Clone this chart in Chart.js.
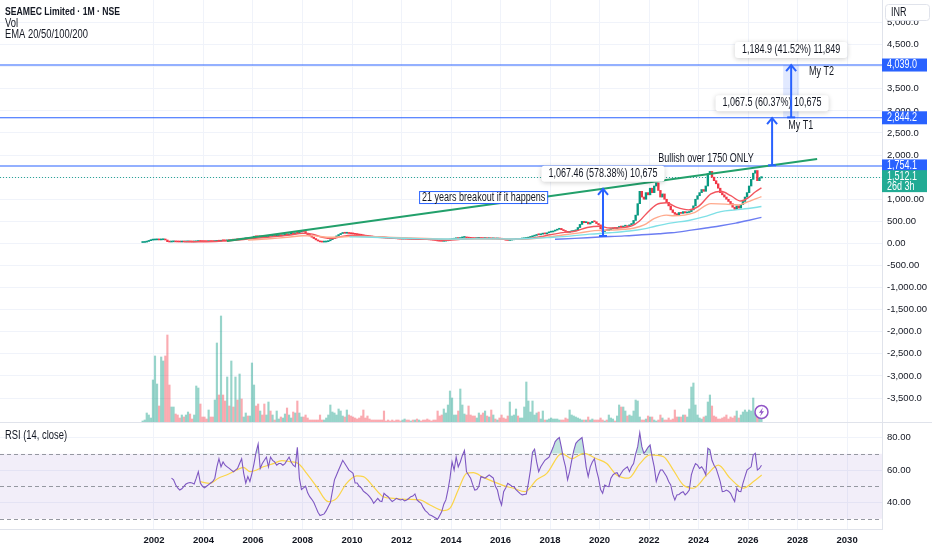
<!DOCTYPE html>
<html>
<head>
<meta charset="utf-8">
<title>SEAMEC Limited · 1M · NSE</title>
<script src="https://cdn.jsdelivr.net/npm/chart.js@4.4.1/dist/chart.umd.min.js"></script>
<style>
  body { margin: 0; background: #ffffff; }
  canvas { display: block; }
</style>
</head>
<body>
<canvas id="price" width="932" height="422"></canvas>
<canvas id="rsi" width="932" height="128"></canvas>
<script>
// monthly bars, the first one is July 2001
const startYear = 2001;
const startMonth = 6;
const firstOpen = 20;

// monthly closes (INR), open of a bar = close of the bar before
const closes = [
  22, 30, 45, 62, 75, 78,                                        // 2001 Jul-Dec
  80, 82, 79, 83, 85, 78, 40, 32, 36, 38, 35, 33,                // 2002
  32, 34, 33, 35, 36, 35, 33, 36, 42, 46, 44, 42,                // 2003
  41, 40, 43, 42, 41, 45, 52, 50, 62, 60, 58, 66,                // 2004
  64, 78, 75, 90, 85, 100, 95, 105, 110, 108, 115, 140,          // 2005
  155, 150, 148, 160, 150, 145, 150, 165, 160, 170, 165, 175,    // 2006
  180, 175, 190, 200, 195, 210, 225, 215, 240, 235, 260, 290,    // 2007
  270, 230, 200, 170, 140, 110, 80, 55, 35, 30, 32, 40,          // 2008
  60, 85, 110, 140, 170, 200, 225, 240, 230, 235, 225, 220,      // 2009
  215, 205, 200, 190, 185, 175, 165, 160, 150, 145, 140, 135,    // 2010
  130, 128, 125, 122, 118, 115, 112, 110, 108, 105, 100, 98,     // 2011
  100, 102, 98, 95, 96, 92, 94, 90, 92, 90, 88, 86,              // 2012
  85, 82, 78, 72, 66, 55, 50, 48, 52, 60, 75, 90,                // 2013
  95, 105, 115, 110, 125, 135, 140, 125, 120, 115, 110, 108,     // 2014
  112, 115, 110, 108, 112, 106, 108, 104, 106, 102, 104, 100,    // 2015
  95, 85, 72, 68, 75, 82, 88, 95, 90, 100, 105, 110,             // 2016
  120, 135, 150, 165, 180, 200, 195, 210, 220, 215, 240, 255,    // 2017
  260, 280, 300, 320, 340, 310, 290, 270, 250, 265, 270, 285,    // 2018
  300, 360, 430, 500, 470, 480, 440, 470, 500, 490, 450, 420,    // 2019
  330, 270, 300, 290, 310, 330, 350, 340, 360, 380, 370, 390,    // 2020
  400, 380, 420, 450, 520, 640, 900, 1180, 1050, 1000, 1150, 1100,   // 2021
  1250, 1150, 1300, 1370, 1200, 1050, 1120, 1000, 930, 850, 760, 700, // 2022
  660, 650, 700, 680, 720, 690, 700, 720, 760, 850, 1000, 1080,  // 2023
  1150, 1220, 1180, 1300, 1580, 1630, 1500, 1420, 1350, 1250, 1150, 1100, // 2024
  1050, 1000, 950, 900, 820, 770, 850, 800, 880, 950, 1050, 1150, // 2025
  1300, 1450, 1590, 1650, 1420, 1480, 1512                        // 2026 Jan-Jul
];

// monthly volume (relative units)
const volume = [
  1, 2, 9, 7, 4, 42,
  66, 38, 16, 65, 61, 66, 87, 37, 15, 15, 8, 7,
  4, 7, 5, 7, 10, 8, 3, 7, 36, 34, 18, 5,
  5, 3, 12, 5, 5, 22, 79, 27, 106, 27, 21, 45,
  16, 61, 15, 45, 22, 48, 23, 5, 9, 6, 6, 59,
  37, 16, 18, 11, 7, 18, 7, 20, 11, 7, 2, 11,
  3, 5, 4, 8, 14, 7, 4, 10, 9, 21, 9, 5,
  5, 7, 4, 2, 2, 2, 2, 2, 7, 2, 2, 4,
  7, 17, 10, 9, 7, 13, 11, 6, 5, 12, 7, 6,
  5, 4, 3, 4, 6, 12, 4, 6, 3, 2, 2, 2,
  2, 2, 2, 11, 1, 2, 1, 2, 1, 2, 2, 1,
  2, 3, 2, 2, 1, 2, 2, 3, 2, 1, 2, 2,
  3, 2, 1, 2, 2, 11, 6, 7, 13, 9, 17, 31,
  24, 7, 7, 11, 33, 17, 8, 7, 16, 7, 6, 6,
  4, 9, 7, 9, 11, 6, 5, 12, 7, 3, 2, 4,
  7, 4, 3, 6, 20, 6, 7, 13, 6, 4, 4, 15,
  40, 21, 10, 21, 7, 9, 10, 3, 11, 2, 2, 3,
  4, 3, 3, 3, 2, 2, 2, 4, 3, 12, 7, 6,
  5, 4, 3, 2, 2, 2, 5, 2, 3, 2, 2, 2,
  4, 2, 1, 2, 7, 4, 3, 1, 6, 17, 15, 15,
  11, 6, 7, 6, 11, 22, 21, 5, 2, 2, 3, 6,
  5, 5, 2, 1, 2, 7, 4, 2, 2, 4, 2, 3,
  12, 5, 5, 5, 7, 7, 5, 13, 35, 39, 17, 7,
  4, 3, 5, 6, 20, 27, 16, 6, 5, 3, 3, 4,
  5, 7, 3, 5, 4, 6, 11, 4, 7, 10, 12, 10,
  12, 11, 24, 9, 14, 10, 12
];

// RSI(14) per month
const rsi = [
  null, null, null, null, null, null,
  null, null, null, null, null, null, null, null, 55, 54, 51, 49,
  47.7, 48.5, 50, 51.4, 52, 52.3, 52, 51.4, 55, 59, 52, 50,
  49, 50, 51, 52, 53, 55, 62, 67, 62, 65, 63, 62,
  61, 60, 59, 60, 61, 64, 67, 58, 52, 56, 53, 58,
  64, 71, 76, 61, 64, 66, 68, 62, 68, 66, 65, 63,
  64, 64, 63, 64, 66, 68, 65, 63, 62, 74, 55, 48,
  49, 50, 46, 43.6, 42, 40, 37, 34, 32, 32.5, 33, 35,
  37.5, 40, 47, 54, 57, 60, 63, 66, 64, 62, 60, 59,
  58, 52, 52, 50, 49, 47, 46, 45, 43.6, 42, 39.5, 41,
  42.6, 41, 40.6, 45.7, 44.5, 43.6, 42, 40.6, 41.5, 42.6, 42, 41.6,
  42, 41, 41.6, 42.5, 43.6, 44, 45.3, 41.6, 40.5, 39.5, 37, 35,
  34, 32.4, 32, 31.3, 30.5, 29.7, 32, 34.4, 39, 41.6, 47.7, 55,
  65, 60, 68, 62, 65, 69, 72, 59, 57, 55, 51, 47.7,
  48, 50, 56, 55.5, 55, 56, 57, 56, 55, 50, 47.7, 42,
  38.5, 46.7, 49, 51.8, 51, 50, 49.8, 48, 46.7, 45.5, 44.7, 45,
  45.3, 52, 60, 71, 72.8, 65, 59, 62, 64, 66, 67, 68,
  71, 74, 77.5, 79, 80, 74, 67, 62, 54, 59, 66, 72,
  76.5, 78, 79, 80, 72, 62, 56, 62, 65, 67, 60, 55,
  48, 45.7, 50.8, 50, 49.8, 55, 57, 58, 58.4, 56, 58, 60,
  61, 62, 59, 62, 64, 70, 74.4, 83, 74.4, 70.3, 72, 74,
  75.4, 68, 62, 52.9, 57, 60, 60, 58, 56, 53, 50.8, 45,
  41.6, 44.7, 45, 46, 46.7, 44.7, 46, 47.7, 57, 61, 64, 63,
  61, 62, 60, 57, 73.4, 72.4, 66, 63, 61, 57, 52.9, 46.7,
  47, 47.7, 47, 45.7, 43, 40.6, 48.8, 47, 46.7, 51.8, 56, 60,
  61, 62, 69.3, 70.3, 60, 61, 63
];

// RSI smoothing line, read at these dates
const rsiMaDates = [2003.86, 2004.26, 2004.6, 2004.93, 2005.34, 2005.61, 2005.88, 2006.15, 2006.42, 2006.82,
  2007.16, 2007.49, 2007.83, 2008.17, 2008.57, 2009.04, 2009.38, 2009.78, 2010.19, 2010.46,
  2010.86, 2011.26, 2011.67, 2012.21, 2012.75, 2013.15, 2013.69, 2013.96, 2014.29, 2014.63,
  2014.9, 2015.31, 2015.71, 2016.12, 2016.52, 2016.99, 2017.46, 2017.87, 2018.48, 2018.88,
  2019.35, 2019.88, 2020.29, 2020.69, 2021.17, 2021.63, 2022.04, 2022.58, 2022.98, 2023.38,
  2023.79, 2024.33, 2024.8, 2025.27, 2025.81, 2026.22, 2026.55];
const rsiMa = [52.9, 51.8, 55, 57, 60, 61.7, 59, 60, 62, 64,
  65.8, 65.2, 64, 58, 49.8, 40.6, 42.6, 51.8, 56.4, 56,
  49.8, 43.6, 42.6, 42, 41.6, 38.5, 35, 36.5, 47.7, 58,
  58.4, 55.5, 52.9, 50.4, 48.8, 46.7, 54, 58, 70.3, 67,
  70.3, 67, 64, 57, 55, 64, 69.3, 68.3, 60, 50.8,
  48.8, 57, 63, 55, 48.8, 52.9, 57];

// EMA lines, read at these dates
const ema20Dates = [2003.2, 2003.8, 2004.5, 2005.0, 2005.5, 2006.0, 2006.5, 2007.0, 2007.5, 2008.0,
  2008.4, 2008.8, 2009.2, 2009.6, 2010.0, 2010.5, 2011.0, 2011.5, 2012.0, 2012.5,
  2013.0, 2013.5, 2013.9, 2014.3, 2014.8, 2015.3, 2015.8, 2016.3, 2016.8, 2017.2,
  2017.6, 2018.0, 2018.5, 2019.0, 2019.5, 2020.0, 2020.4, 2020.9, 2021.3, 2021.6,
  2021.9, 2022.3, 2022.7, 2023.1, 2023.6, 2024.0, 2024.5, 2024.9, 2025.3, 2025.7,
  2026.0, 2026.3, 2026.54];
const ema20 = [40, 38, 45, 58, 80, 110, 135, 160, 190, 230,
  210, 140, 110, 160, 185, 175, 150, 128, 110, 98,
  92, 80, 72, 88, 110, 112, 108, 95, 95, 115,
  150, 195, 245, 275, 360, 390, 350, 355, 395, 500,
  680, 880, 920, 820, 760, 840, 1120, 1180, 1080, 960,
  1030, 1170, 1257];
const ema50Dates = [2005.8, 2006.5, 2007.0, 2007.5, 2008.0, 2008.5, 2009.0, 2009.5, 2010.0, 2010.5,
  2011.0, 2012.0, 2013.0, 2014.0, 2015.0, 2016.0, 2016.8, 2017.5, 2018.0, 2018.6,
  2019.2, 2019.8, 2020.4, 2021.0, 2021.4, 2021.8, 2022.2, 2022.7, 2023.0, 2023.8,
  2024.5, 2025.1, 2025.6, 2025.9, 2026.54];
const ema50 = [75, 100, 120, 145, 175, 170, 140, 145, 160, 158,
  150, 130, 110, 95, 105, 102, 98, 120, 150, 195,
  240, 290, 300, 320, 350, 420, 560, 640, 625, 690,
  900, 890, 870, 920, 1060];
const ema100Dates = [2009.9, 2010.5, 2011.5, 2012.5, 2013.5, 2014.5, 2015.5, 2016.5, 2017.2, 2018.0,
  2018.8, 2019.6, 2020.4, 2021.2, 2021.8, 2022.25, 2022.85, 2023.6, 2024.2, 2024.9,
  2025.5, 2026.0, 2026.54];
const ema100 = [150, 145, 128, 112, 100, 100, 104, 100, 110, 135,
  165, 210, 240, 280, 330, 390, 460, 520, 600, 720,
  760, 790, 835];
const ema200Dates = [2018.2, 2019.0, 2020.0, 2021.0, 2021.7, 2022.4, 2022.9, 2023.7, 2024.3, 2024.9,
  2025.5, 2026.0, 2026.54];
const ema200 = [95, 115, 145, 170, 195, 220, 240, 300, 350, 400, 460, 520, 590];

// axis ticks
const yearTicks = [2002, 2004, 2006, 2008, 2010, 2012, 2014, 2016, 2018, 2020, 2022, 2024, 2026, 2028, 2030];
const priceTicks = [-3500, -3000, -2500, -2000, -1500, -1000, -500, 0, 500, 1000, 1500, 2000, 2500, 3000, 3500, 4000, 4500, 5000];
const rsiTicks = [40, 60, 80];
const rsiBands = [70, 50, 30];

// drawings on the price pane
const levels = [4039.0, 2844.2, 1754.1];
const lastPrice = 1512.1;
const trendDates = [2004.95, 2028.79];
const trendValues = [54, 1911];
const moveDates = [2020.14, 2026.97, 2027.74];
const moveFrom = [167.5, 1768.3, 2853.8];
const moveTo = [1235.0, 2835.8, 4038.7];
const moveLabels = ['1,067.46 (578.38%) 10,675', '1,067.5 (60.37%) 10,675', '1,184.9 (41.52%) 11,849'];

const UP = '#089981', DOWN = '#f23645', BLUE = '#2962ff', GRID = '#f0f3fa', TEXT = '#131722';
const FONT = "'Liberation Sans', Arial, sans-serif";
const SQUEEZE = 0.75;   // the screenshot text is set in a narrow face
const X_MIN = 1995.78, X_MAX = 2031.41;

function barTime(i) { return startYear + (startMonth + i + 0.5) / 12; }
const opens = closes.map((c, i) => i === 0 ? firstOpen : closes[i - 1]);
const isUp = closes.map((c, i) => c >= opens[i]);

function fmtPrice(v) {
  const d = Math.abs(v) < 2000 ? 2 : 1;
  return v.toLocaleString('en-US', { minimumFractionDigits: d, maximumFractionDigits: d });
}
function setTicks(list) {
  return function (s) { s.ticks = list.map(v => ({ value: v })); };
}
function pairs(dates, vals) { return dates.map((d, k) => ({ x: d, y: vals[k] })); }

function emaSet(label, dates, vals, color) {
  return {
    type: 'line', label: label, yAxisID: 'y', order: 1,
    data: pairs(dates, vals), borderColor: color, borderWidth: 1.4,
    pointRadius: 0, cubicInterpolationMode: 'monotone', fill: false
  };
}

// narrow text: same glyphs squeezed to the width of the screenshot
function textWidth(ctx, s, font) {
  ctx.font = font;
  return ctx.measureText(s).width * SQUEEZE;
}
function text(ctx, s, x, y, font, color, align) {
  ctx.font = font;
  ctx.fillStyle = color;
  ctx.textAlign = align || 'left';
  ctx.textBaseline = 'middle';
  ctx.fillText(s, x, y, ctx.measureText(s).width * SQUEEZE);
}

function drawArrow(ctx, px, pyFrom, pyTo) {
  ctx.strokeStyle = BLUE;
  ctx.lineWidth = 2;
  ctx.beginPath(); ctx.moveTo(px, pyFrom); ctx.lineTo(px, pyTo); ctx.stroke();
  ctx.beginPath(); ctx.moveTo(px - 5, pyTo + 6); ctx.lineTo(px, pyTo); ctx.lineTo(px + 5, pyTo + 6); ctx.stroke();
  ctx.beginPath(); ctx.moveTo(px - 4, pyFrom); ctx.lineTo(px + 4, pyFrom); ctx.stroke();
}

function priceBox(ctx, a, py, label, color, sub) {
  const h = sub ? 22 : 13;
  ctx.fillStyle = color;
  ctx.fillRect(a.right, py - 6.5, 45, h);
  text(ctx, label, a.right + 5, py, '12px ' + FONT, '#ffffff');
  if (sub) text(ctx, sub, a.right + 5, py + 10, '12px ' + FONT, '#ffffff');
}

const priceOverlay = {
  id: 'priceOverlay',
  beforeDatasetsDraw(chart) {
    const { ctx, chartArea: a, scales: { x, y } } = chart;
    ctx.save();
    // shaded zone behind the second target move
    const sx = x.getPixelForValue(moveDates[2]);
    const sTop = y.getPixelForValue(moveTo[2]), sBot = y.getPixelForValue(moveFrom[2]);
    ctx.fillStyle = 'rgba(41,98,255,0.14)';
    ctx.fillRect(sx - 8, sTop, 16, sBot - sTop);
    // horizontal levels
    ctx.strokeStyle = BLUE;
    ctx.lineWidth = 1.1;
    levels.forEach(v => {
      const py = y.getPixelForValue(v);
      ctx.beginPath(); ctx.moveTo(a.left, py); ctx.lineTo(a.right, py); ctx.stroke();
    });
    // last price dotted line
    ctx.strokeStyle = 'rgba(8,153,129,0.85)';
    ctx.lineWidth = 1;
    ctx.setLineDash([1, 2]);
    const lp = Math.round(y.getPixelForValue(lastPrice)) + 0.5;
    ctx.beginPath(); ctx.moveTo(a.left, lp); ctx.lineTo(a.right, lp); ctx.stroke();
    ctx.restore();
  },
  afterDatasetsDraw(chart) {
    const { ctx, scales: { x, y } } = chart;
    const f = '12px ' + FONT;
    ctx.save();
    // trend line
    ctx.strokeStyle = '#22a06b';
    ctx.lineWidth = 2;
    ctx.beginPath();
    ctx.moveTo(x.getPixelForValue(trendDates[0]), y.getPixelForValue(trendValues[0]));
    ctx.lineTo(x.getPixelForValue(trendDates[1]), y.getPixelForValue(trendValues[1]));
    ctx.stroke();

    // measured moves
    moveDates.forEach((d, k) => {
      const px = x.getPixelForValue(d);
      const top = y.getPixelForValue(moveTo[k]);
      drawArrow(ctx, px, y.getPixelForValue(moveFrom[k]), top);
      const w = textWidth(ctx, moveLabels[k], f) + 14, h = 16;
      const by = top - 7 - h;
      ctx.save();
      ctx.shadowColor = 'rgba(0,0,0,0.2)';
      ctx.shadowBlur = 5;
      ctx.shadowOffsetY = 1;
      ctx.fillStyle = '#ffffff';
      ctx.beginPath(); ctx.roundRect(px - w / 2, by, w, h, 3); ctx.fill();
      ctx.restore();
      text(ctx, moveLabels[k], px, by + h / 2, f, TEXT, 'center');
    });

    // notes
    text(ctx, 'Bullish over 1750 ONLY', x.getPixelForValue(2024.3), y.getPixelForValue(1918), f, TEXT, 'center');
    text(ctx, 'My T1', x.getPixelForValue(2027.62), y.getPixelForValue(2658), f, TEXT);
    text(ctx, 'My T2', x.getPixelForValue(2028.46), y.getPixelForValue(3887), f, TEXT);

    const note = '21 years breakout if it happens';
    const nx = x.getPixelForValue(2012.71), ny = y.getPixelForValue(1050);
    const nw = textWidth(ctx, note, f) + 5;
    ctx.fillStyle = '#ffffff';
    ctx.fillRect(nx, ny - 6, nw, 12);
    ctx.strokeStyle = BLUE;
    ctx.lineWidth = 1;
    ctx.strokeRect(nx + 0.5, ny - 5.5, nw, 12);
    text(ctx, note, nx + 3, ny + 0.5, f, TEXT);
    ctx.restore();
  },
  afterDraw(chart) {
    const { ctx, chartArea: a, scales: { x, y } } = chart;
    ctx.save();
    // price labels on the axis
    levels.forEach(v => priceBox(ctx, a, y.getPixelForValue(v), fmtPrice(v).replace(/0$/, '').replace(/\.$/, '.0'), BLUE));
    priceBox(ctx, a, y.getPixelForValue(lastPrice), '1,512.1', '#22ab94', '26d 3h');
    // currency box
    ctx.fillStyle = '#ffffff';
    ctx.strokeStyle = '#e0e3eb';
    ctx.lineWidth = 1;
    ctx.beginPath(); ctx.roundRect(a.right + 3.5, 4.5, 44, 16, 3); ctx.fill(); ctx.stroke();
    text(ctx, 'INR', a.right + 9, 13, '12px ' + FONT, TEXT);
    // legend texts
    text(ctx, 'SEAMEC Limited · 1M · NSE', 5, 11.5, 'bold 11.5px ' + FONT, TEXT);
    text(ctx, 'Vol', 5, 24, '12.5px ' + FONT, TEXT);
    text(ctx, 'EMA 20/50/100/200', 5, 35, '12.5px ' + FONT, TEXT);
    // flash icon at the last bar
    const ix = x.getPixelForValue(barTime(closes.length - 1)), iy = a.bottom - 10;
    ctx.fillStyle = '#ffffff';
    ctx.strokeStyle = '#9155c7';
    ctx.lineWidth = 1.5;
    ctx.beginPath(); ctx.arc(ix, iy, 6.5, 0, Math.PI * 2); ctx.fill(); ctx.stroke();
    ctx.fillStyle = '#9155c7';
    ctx.beginPath();
    ctx.moveTo(ix + 1.5, iy - 4.5); ctx.lineTo(ix - 2.5, iy + 0.8); ctx.lineTo(ix - 0.2, iy + 0.8);
    ctx.lineTo(ix - 1.5, iy + 4.5); ctx.lineTo(ix + 2.5, iy - 0.8); ctx.lineTo(ix + 0.2, iy - 0.8);
    ctx.closePath(); ctx.fill();
    ctx.restore();
  }
};

const rsiOverlay = {
  id: 'rsiOverlay',
  beforeDatasetsDraw(chart) {
    const { ctx, chartArea: a, scales: { y } } = chart;
    ctx.save();
    const y70 = y.getPixelForValue(70), y30 = y.getPixelForValue(30);
    ctx.fillStyle = 'rgba(126,87,194,0.1)';
    ctx.fillRect(a.left, y70, a.right - a.left, y30 - y70);
    ctx.strokeStyle = '#9598a1';
    ctx.lineWidth = 1;
    ctx.setLineDash([4, 3]);
    rsiBands.forEach(v => {
      const py = Math.round(y.getPixelForValue(v)) + 0.5;
      ctx.beginPath(); ctx.moveTo(a.left, py); ctx.lineTo(a.right, py); ctx.stroke();
    });
    ctx.restore();
  },
  afterDraw(chart) {
    const { ctx } = chart;
    ctx.save();
    ctx.strokeStyle = '#e0e3eb';
    ctx.lineWidth = 1;
    ctx.beginPath(); ctx.moveTo(0, 0.5); ctx.lineTo(932, 0.5); ctx.stroke();
    text(ctx, 'RSI (14, close)', 5, 14, '12.5px ' + FONT, TEXT);
    ctx.restore();
  }
};

const tickFont = { family: FONT, size: 9.5 };

const xCommon = {
  type: 'linear', min: X_MIN, max: X_MAX, offset: false,
  afterBuildTicks: setTicks(yearTicks),
  grid: { color: GRID, drawTicks: false, offset: false }
};

new Chart(document.getElementById('price'), {
  type: 'line',
  data: {
    datasets: [
      {
        type: 'bar', label: 'Vol', yAxisID: 'yv', order: 5, grouped: false,
        data: volume.map((v, i) => ({ x: barTime(i), y: v })),
        backgroundColor: isUp.map(u => u ? 'rgba(8,153,129,0.42)' : 'rgba(242,54,69,0.42)'),
        barThickness: 1.5
      },
      {
        type: 'bar', label: 'SEAMEC', yAxisID: 'y', order: 2, grouped: false,
        data: closes.map((c, i) => ({ x: barTime(i), y: [opens[i], c] })),
        backgroundColor: isUp.map(u => u ? UP : DOWN),
        barThickness: 1.7, minBarLength: 1
      },
      emaSet('EMA 200', ema200Dates, ema200, '#6c7df2'),
      emaSet('EMA 100', ema100Dates, ema100, '#7fe0e6'),
      emaSet('EMA 50', ema50Dates, ema50, '#ffa98c'),
      emaSet('EMA 20', ema20Dates, ema20, '#f2555e')
    ]
  },
  options: {
    responsive: false, animation: false, events: [],
    layout: { padding: 0 },
    plugins: { legend: { display: false }, tooltip: { enabled: false } },
    scales: {
      x: Object.assign({}, xCommon, {
        ticks: { display: false },
        border: { display: false },
        afterFit: s => { s.height = 0; s.paddingLeft = 0; s.paddingRight = 0; }
      }),
      y: {
        position: 'right', min: -4043, max: 5511,
        afterBuildTicks: setTicks(priceTicks),
        ticks: { padding: 5, color: TEXT, font: tickFont, callback: v => fmtPrice(v) },
        grid: { color: GRID, drawTicks: false },
        border: { display: true, color: '#e0e3eb' },
        afterFit: s => { s.width = 50; s.paddingTop = 0; s.paddingBottom = 0; }
      },
      yv: { display: false, min: 0, max: 422 }
    }
  },
  plugins: [priceOverlay]
});

new Chart(document.getElementById('rsi'), {
  type: 'line',
  data: {
    datasets: [
      {
        label: 'RSI', data: rsi.map((v, i) => ({ x: barTime(i), y: v })),
        borderColor: '#7e57c2', borderWidth: 1.1, pointRadius: 0,
        fill: { value: 70, above: 'rgba(8,153,129,0.25)', below: 'rgba(0,0,0,0)' }
      },
      {
        label: 'RSI MA', data: pairs(rsiMaDates, rsiMa),
        borderColor: '#fbd54a', borderWidth: 1.2, pointRadius: 0,
        cubicInterpolationMode: 'monotone', fill: false
      }
    ]
  },
  options: {
    responsive: false, animation: false, events: [],
    layout: { padding: 0 },
    plugins: { legend: { display: false }, tooltip: { enabled: false } },
    scales: {
      x: Object.assign({}, xCommon, {
        ticks: { padding: 6, autoSkip: false, maxRotation: 0, color: TEXT, font: { family: FONT, size: 9.5, weight: 'bold' }, callback: v => String(v) },
        border: { display: true, color: '#e0e3eb' },
        afterFit: s => { s.height = 21; s.paddingLeft = 0; s.paddingRight = 0; }
      }),
      y: {
        position: 'right', min: 23.7, max: 89.6,
        afterBuildTicks: setTicks(rsiTicks),
        ticks: { padding: 5, color: TEXT, font: tickFont, callback: v => v.toFixed(2) },
        grid: { color: GRID, drawTicks: false },
        border: { display: true, color: '#e0e3eb' },
        afterFit: s => { s.width = 50; s.paddingTop = 0; s.paddingBottom = 0; }
      }
    }
  },
  plugins: [rsiOverlay]
});
</script>
</body>
</html>
